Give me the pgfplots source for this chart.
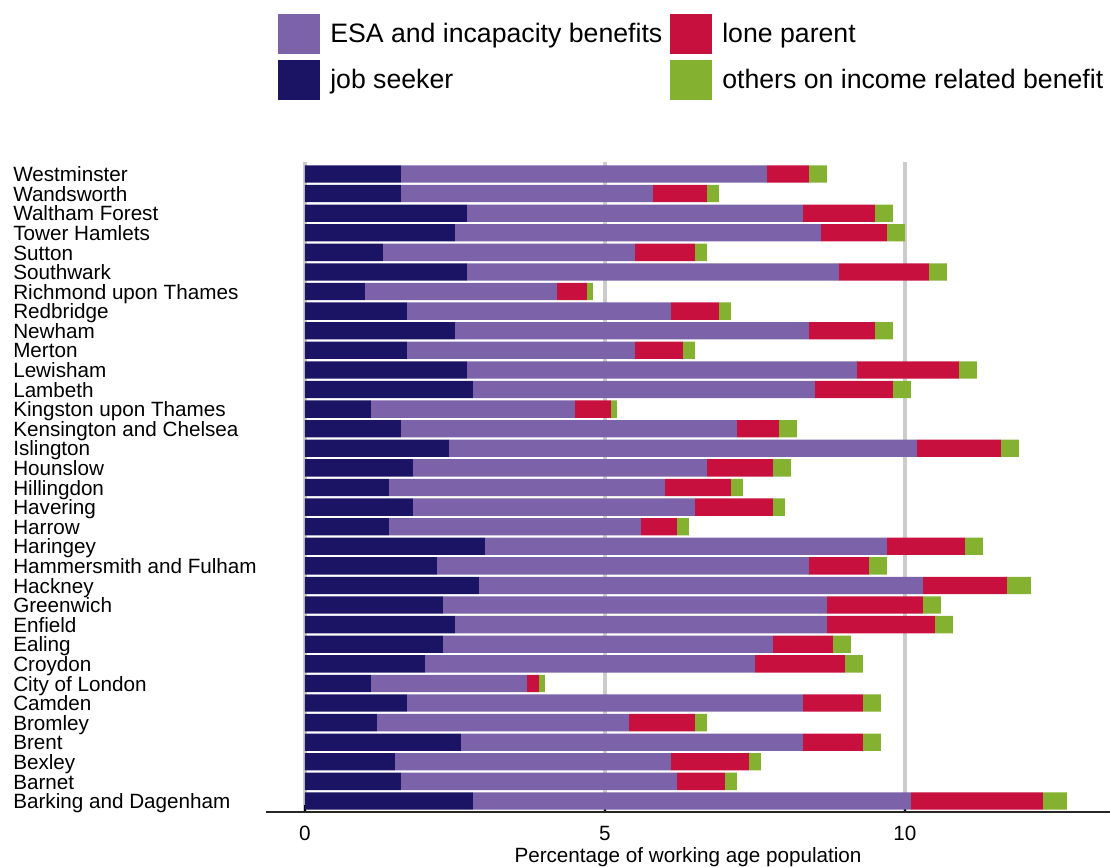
\documentclass[border=0pt]{standalone}
\usepackage{fontspec}
\setmainfont{Liberation Sans}
\usepackage{pgfplots}
\usepackage{pgfplotstable}
\pgfplotsset{compat=1.18}
\definecolor{cjs}{RGB}{27,20,100}
\definecolor{cesa}{RGB}{123,98,169}
\definecolor{clone}{RGB}{200,16,63}
\definecolor{coth}{RGB}{132,178,48}
\pgfplotstableread{
idx js esa lone oth
0 2.8 7.3 2.2 0.4
1 1.6 4.6 0.8 0.2
2 1.5 4.6 1.3 0.2
3 2.6 5.7 1.0 0.3
4 1.2 4.2 1.1 0.2
5 1.7 6.6 1.0 0.3
6 1.1 2.6 0.2 0.1
7 2.0 5.5 1.5 0.3
8 2.3 5.5 1.0 0.3
9 2.5 6.2 1.8 0.3
10 2.3 6.4 1.6 0.3
11 2.9 7.4 1.4 0.4
12 2.2 6.2 1.0 0.3
13 3.0 6.7 1.3 0.3
14 1.4 4.2 0.6 0.2
15 1.8 4.7 1.3 0.2
16 1.4 4.6 1.1 0.2
17 1.8 4.9 1.1 0.3
18 2.4 7.8 1.4 0.3
19 1.6 5.6 0.7 0.3
20 1.1 3.4 0.6 0.1
21 2.8 5.7 1.3 0.3
22 2.7 6.5 1.7 0.3
23 1.7 3.8 0.8 0.2
24 2.5 5.9 1.1 0.3
25 1.7 4.4 0.8 0.2
26 1.0 3.2 0.5 0.1
27 2.7 6.2 1.5 0.3
28 1.3 4.2 1.0 0.2
29 2.5 6.1 1.1 0.3
30 2.7 5.6 1.2 0.3
31 1.6 4.2 0.9 0.2
32 1.6 6.1 0.7 0.3
}\data
\begin{document}
\begin{tikzpicture}
\path[use as bounding box] (-199.5pt,-41.25pt) rectangle (633pt,609pt);
\begin{axis}[
  at={(0pt,0pt)}, anchor=south west,
  scale only axis, width=633pt, height=487.5pt,
  xbar stacked, bar width=13pt,
  xmin=-0.65, xmax=13.42, ymin=-0.561, ymax=32.612,
  xtick={0,5,10}, ytick={0,...,32},
  yticklabels={Barking and Dagenham,Barnet,Bexley,Brent,Bromley,Camden,City of London,Croydon,Ealing,Enfield,Greenwich,Hackney,Hammersmith and Fulham,Haringey,Harrow,Havering,Hillingdon,Hounslow,Islington,Kensington and Chelsea,Kingston upon Thames,Lambeth,Lewisham,Merton,Newham,Redbridge,Richmond upon Thames,Southwark,Sutton,Tower Hamlets,Waltham Forest,Wandsworth,Westminster},
  axis x line*=bottom, axis y line*=left,
  y axis line style={draw=none}, ytick style={draw=none},
  x axis line style={line width=1.5pt, black!85, -},
  xtick style={black, line width=1.2pt}, major tick length=5pt, tick align=inside,
  xmajorgrids, grid style={line width=3pt, black!20},
  /pgf/number format/assume math mode=true,
  yticklabel style={anchor=west, xshift=-189.75pt, yshift=-1pt, inner sep=0pt, text height=11pt, text depth=1.5pt, font=\fontsize{15.5}{18}\selectfont},
  xticklabel style={anchor=center, yshift=-15.75pt, font=\fontsize{15.5}{18}\selectfont},
  xlabel={Percentage of working age population},
  xlabel style={at={(axis description cs:0.5,0)}, anchor=center, yshift=-33.75pt, font=\fontsize{15.5}{18}\selectfont},
  legend image code/.code={\fill[#1] (0pt,-15pt) rectangle (31.5pt,15pt);},
  legend columns=2, transpose legend,
  legend style={at={(0.0142,1.2277)}, anchor=north west, draw=none, fill=none, inner sep=0pt,
    font=\fontsize{20}{24}\selectfont, row sep=4.5pt,
    /tikz/every even column/.append style={column sep=6pt},
    /tikz/every odd column/.append style={column sep=7.5pt},
    nodes={inner sep=0pt}},
  legend cell align=left,
]
\addplot[fill=cjs, draw=none, forget plot] table[x=js, y=idx]{\data};
\addplot[fill=cesa, draw=none, forget plot] table[x=esa, y=idx]{\data};
\addplot[fill=clone, draw=none, forget plot] table[x=lone, y=idx]{\data};
\addplot[fill=coth, draw=none, forget plot] table[x=oth, y=idx]{\data};
\addlegendimage{fill=cesa, draw=none}
\addlegendentry{ESA and incapacity benefits}
\addlegendimage{fill=cjs, draw=none}
\addlegendentry{job seeker}
\addlegendimage{fill=clone, draw=none}
\addlegendentry{lone parent}
\addlegendimage{fill=coth, draw=none}
\addlegendentry{others on income related benefit}
\end{axis}
\end{tikzpicture}
\end{document}
